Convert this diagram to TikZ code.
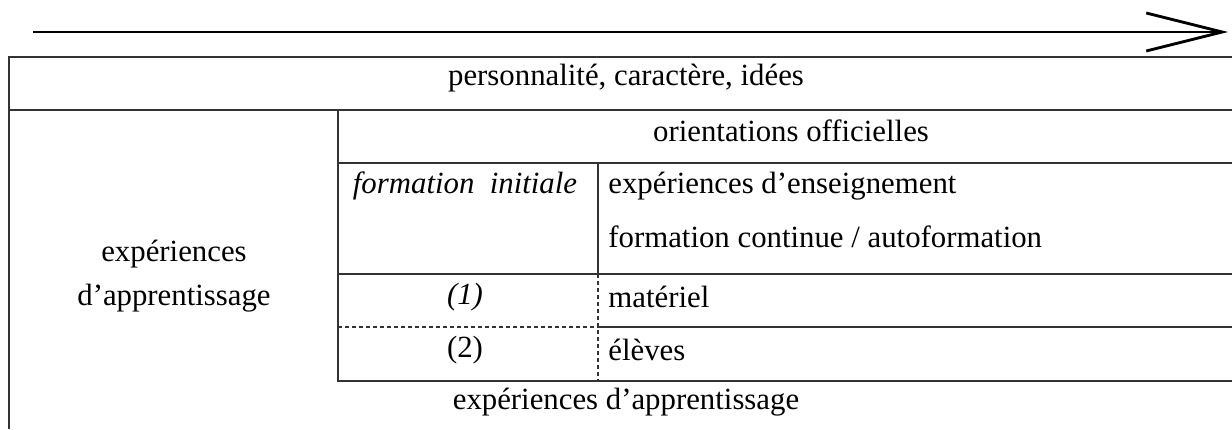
\documentclass[tikz,border=0pt]{standalone}
\usepackage{fontspec}
\setmainfont{Liberation Serif}
\usetikzlibrary{arrows.meta}
\begin{document}
\begin{tikzpicture}[x=0.5pt,y=-0.5pt,
  rule/.style={line width=1pt,draw=black!80},
  dashrule/.style={line width=0.8pt,draw=black!80,dash pattern=on 2pt off 1.5pt},
  txt/.style={inner sep=0pt,font=\fontsize{15.4pt}{18pt}\selectfont},
  ltxt/.style={txt,anchor=west}]
\useasboundingbox (0,0) rectangle (1232,429);
% arrow
\coordinate (as) at (33,32);
\coordinate (ae) at (1228,32);
\draw[line width=1.4pt,-{Straight Barb[length=38pt,width=19pt,line width=1.4pt]}] (as) -- (ae);
% outer frame
\draw[rule] (1232,57) -- (9,57) -- (9,429);
\draw[rule] (9,110) -- (1232,110);
% inner table
\draw[rule] (338,110) -- (338,381) -- (1232,381);
\draw[rule] (338,163) -- (1232,163);
\draw[rule] (338,274) -- (1232,274);
\draw[rule] (598,327) -- (1232,327);
\draw[dashrule] (338,327) -- (598,327);
\draw[rule] (598,163) -- (598,274);
\draw[dashrule] (598,274) -- (598,381);
% texts
\node[txt] (pers) at (626,78) {personnalité, caractère, idées};
\node[txt] (orient) at (791,131) {orientations officielles};
\node[txt] (finit) at (465,186) {\itshape formation\ \ initiale};
\node[ltxt] (exens) at (608,186) {expériences d’enseignement};
\node[ltxt] (fcont) at (608,237) {formation continue / autoformation};
\node[txt] (n1) at (465,297) {\itshape (1)};
\node[ltxt] (mat) at (608,297) {matériel};
\node[txt] (n2) at (465,350) {(2)};
\node[ltxt] (el) at (608,350) {élèves};
\node[txt,align=center] (expl) at (174,276) {expériences\\[4pt]d’apprentissage};
\node[txt] (expb) at (626,402) {expériences d’apprentissage};
\end{tikzpicture}
\end{document}
